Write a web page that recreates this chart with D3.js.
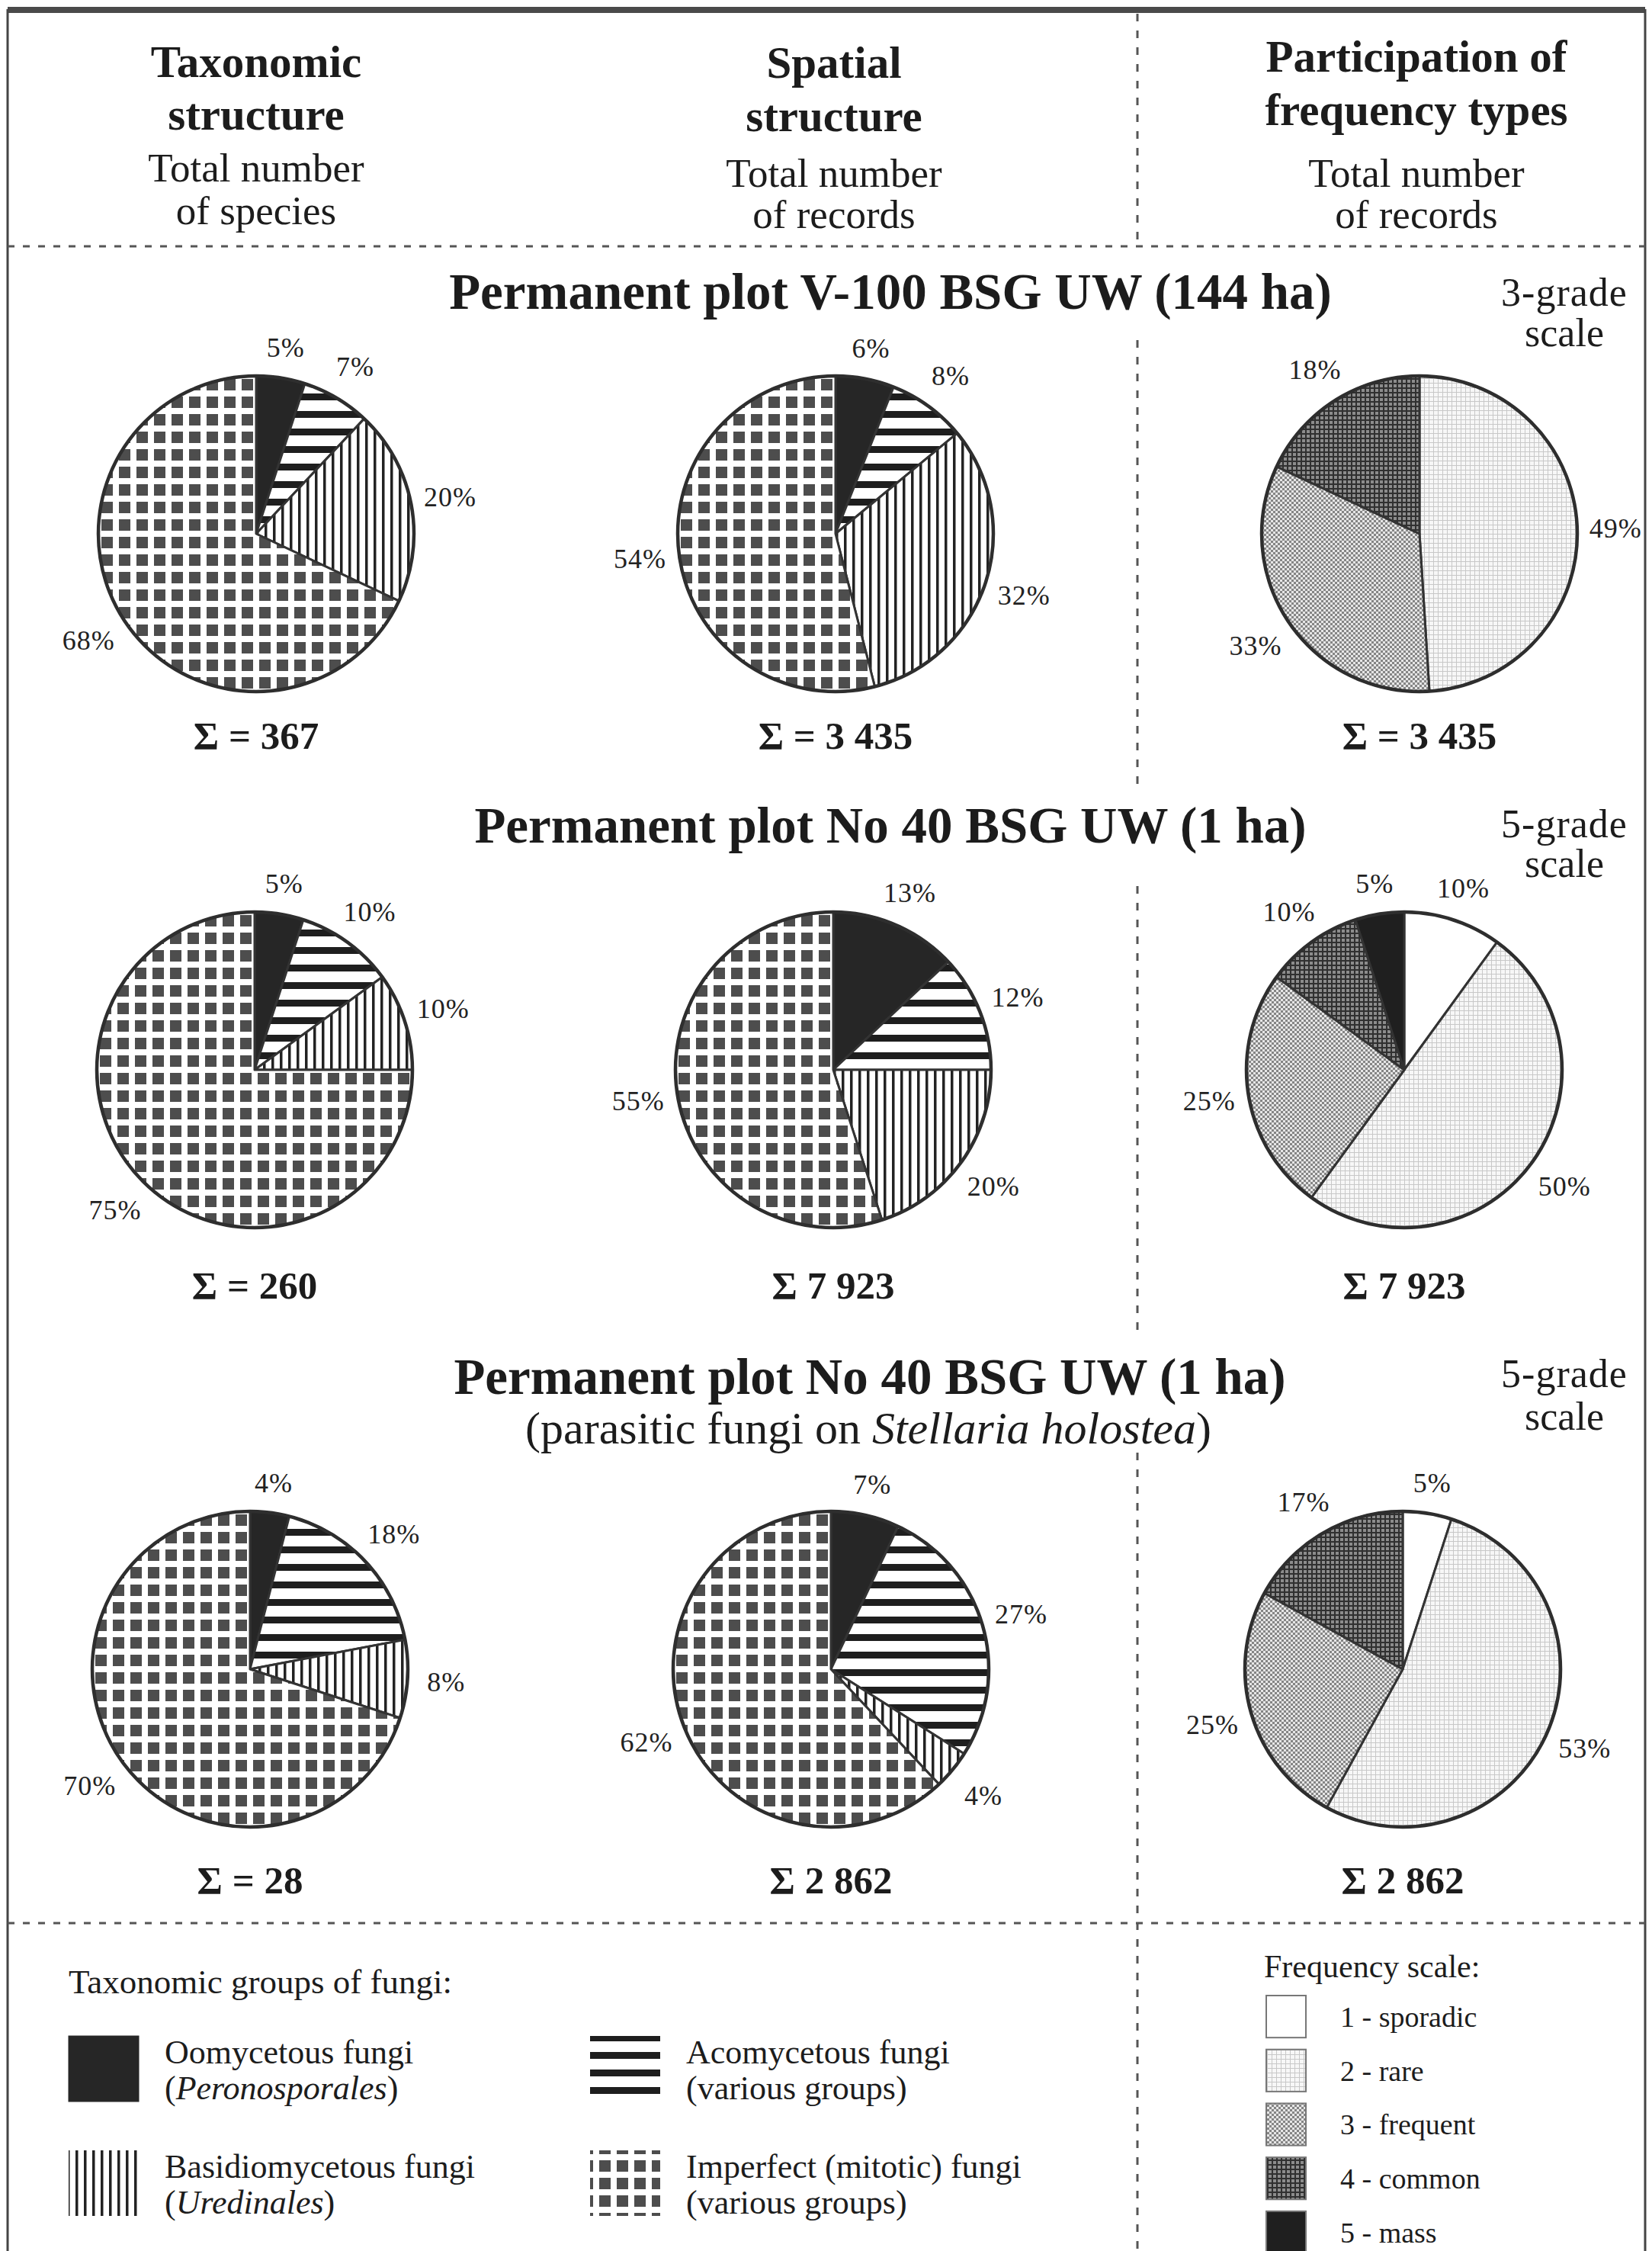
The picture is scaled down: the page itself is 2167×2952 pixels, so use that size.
<!DOCTYPE html>
<html>
<head>
<meta charset="utf-8">
<script src="https://cdn.jsdelivr.net/npm/d3@7"></script>
<style>
  body { margin: 0; background: #fff; }
  svg text { font-family: "Liberation Serif", "DejaVu Serif", serif; fill: #1c1c1c; }
</style>
</head>
<body>
<div id="chart"></div>
<script>
// ── data ─────────────────────────────────────────────────────────────
const taxGroups = ["Oomycetous fungi", "Acomycetous fungi", "Basidiomycetous fungi", "Imperfect (mitotic) fungi"];
const taxSubs = ["Peronosporales", "various groups", "Uredinales", "various groups"];
const taxSubItalic = [true, false, true, false];
const freqTypes = ["1 - sporadic", "2 - rare", "3 - frequent", "4 - common", "5 - mass"];

const plotTitles = ["Permanent plot V-100 BSG UW (144 ha)", "Permanent plot No 40 BSG UW (1 ha)", "Permanent plot No 40 BSG UW (1 ha)"];
const scaleNotes = ["3-grade", "5-grade", "5-grade"];

// % per taxonomic group (clockwise from 12 o'clock)
const taxonomicValues = [[5, 7, 20, 68], [5, 10, 10, 75], [4, 18, 8, 70]];
const spatialValues = [[6, 8, 32, 54], [13, 12, 20, 55], [7, 27, 4, 62]];
// % per frequency type
const freqValues = [[0, 49, 33, 18, 0], [10, 50, 25, 10, 5], [5, 53, 25, 17, 0]];

const speciesTotals = [367, 260, 28];
const recordTotals = [3435, 7923, 2862];
const sumSigns = [["= ", "= ", "= "], ["= ", "", ""], ["= ", "", ""]];

const headers = [
  { bold: ["Taxonomic", "structure"], reg: ["Total number", "of species"] },
  { bold: ["Spatial", "structure"], reg: ["Total number", "of records"] },
  { bold: ["Participation of", "frequency types"], reg: ["Total number", "of records"] }
];

function drawFigure() {
  const W = 2167, H = 2952;
  const svg = d3.select("#chart").append("svg")
    .attr("width", W).attr("height", H)
    .attr("viewBox", `0 0 ${W} ${H}`);

  /* ── 1. fill patterns (scanned hatching) ────────────────────────── */
  const defs = svg.append("defs");
  function pattern(id, w, h, bg, rects) {
    const p = defs.append("pattern").attr("id", id)
      .attr("patternUnits", "userSpaceOnUse").attr("width", w).attr("height", h);
    p.append("rect").attr("width", w).attr("height", h).attr("fill", bg);
    rects.forEach(r => p.append("rect")
      .attr("x", r[0]).attr("y", r[1]).attr("width", r[2]).attr("height", r[3]).attr("fill", r[4]));
  }
  pattern("p-oomy", 10, 10, "#262626", []);
  pattern("p-asco", 24, 23, "#fff", [[0, 0, 24, 9, "#1e1e1e"]]);
  pattern("p-basid", 11, 11, "#fff", [[0, 0, 3.5, 11, "#222"]]);
  pattern("p-imperf", 23, 23, "#fff", [[4, 4, 15, 15, "#4d4d4d"]]);

  pattern("p-spor", 10, 10, "#fff", []);
  pattern("p-rare", 6, 6, "#f7f7f7", [[0, 0, 6, 1, "#c8c8c8"], [0, 0, 1, 6, "#c8c8c8"]]);
  pattern("p-freq", 6, 6, "#e6e6e6", [[0, 0, 3, 3, "#858585"], [3, 3, 3, 3, "#858585"]]);
  pattern("p-comm", 6, 6, "#8c8c8c", [[0, 0, 6, 2, "#303030"], [0, 0, 2, 6, "#303030"]]);
  pattern("p-mass", 10, 10, "#1f1f1f", []);

  const taxFill = d3.scaleOrdinal().domain(taxGroups)
    .range(["url(#p-oomy)", "url(#p-asco)", "url(#p-basid)", "url(#p-imperf)"]);
  const freqFill = d3.scaleOrdinal().domain(freqTypes)
    .range(["url(#p-spor)", "url(#p-rare)", "url(#p-freq)", "url(#p-comm)", "url(#p-mass)"]);

  /* ── 2. frame and dashed separators ─────────────────────────────── */
  const xLeft = 10, xRight = 2158, xDiv = 1492;
  svg.append("rect").attr("x", xLeft).attr("y", 9).attr("width", xRight - xLeft).attr("height", 8).attr("fill", "#4a4a4a");
  [xLeft, xRight].forEach(x => svg.append("line")
    .attr("x1", x).attr("x2", x).attr("y1", 12).attr("y2", H)
    .attr("stroke", "#444").attr("stroke-width", 3));

  [323, 2522].forEach(y => svg.append("line")
    .attr("x1", xLeft).attr("x2", xRight).attr("y1", y).attr("y2", y)
    .attr("stroke", "#555").attr("stroke-width", 3).attr("stroke-dasharray", "9,11"));

  [[18, 323], [446, 1035], [1162, 1745], [1905, H]].forEach(s => svg.append("line")
    .attr("x1", xDiv).attr("x2", xDiv).attr("y1", s[0]).attr("y2", s[1])
    .attr("stroke", "#555").attr("stroke-width", 3).attr("stroke-dasharray", "10,12"));

  /* ── 3. column headers ──────────────────────────────────────────── */
  const colX = [336, 1094, 1858];
  const headY = [[101, 170, 238, 294], [102, 172, 245, 299], [94, 164, 245, 299]];
  headers.forEach((h, i) => {
    h.bold.forEach((t, j) => svg.append("text")
      .attr("x", colX[i]).attr("y", headY[i][j]).attr("text-anchor", "middle")
      .style("font-size", "59px").style("font-weight", "bold").text(t));
    h.reg.forEach((t, j) => svg.append("text")
      .attr("x", colX[i]).attr("y", headY[i][j + 2]).attr("text-anchor", "middle")
      .style("font-size", "53px").text(t));
  });

  /* ── 4. pie rows ────────────────────────────────────────────────── */
  const R = 207;
  const rowY = [700, 1403, 2189];
  const titleY = [405, 1105, 1828];
  const titleX = [1168, 1168, 1141];
  const noteY = [[401, 454], [1098, 1150], [1819, 1875]];
  const sumY = [982, 1703, 2483];
  const pieX = [[336, 1096, 1862], [334, 1093, 1842], [328, 1090, 1840]];

  const pie = d3.pie().sort(null).value(d => d.value);
  const arc = d3.arc().innerRadius(0).outerRadius(R);

  function drawPie(cx, cy, keys, values, fill) {
    const items = keys.map((k, i) => ({ key: k, value: values[i] })).filter(d => d.value > 0);
    const g = svg.append("g").attr("transform", `translate(${cx},${cy})`);
    const arcs = pie(items);
    g.selectAll("path").data(arcs).join("path")
      .attr("d", arc)
      .attr("fill", d => fill(d.data.key))
      .attr("stroke", "#333").attr("stroke-width", 3).attr("stroke-linejoin", "round");
    g.append("circle").attr("r", R).attr("fill", "none").attr("stroke", "#2e2e2e").attr("stroke-width", 4.5);

    // percent labels just outside each slice
    g.selectAll("text.pct").data(arcs).join("text")
      .attr("class", "pct")
      .attr("transform", d => {
        const a = (d.startAngle + d.endAngle) / 2;
        const rl = R + 22 + 28 * Math.abs(Math.sin(a)) + 14 * Math.abs(Math.cos(a));
        return `translate(${rl * Math.sin(a)},${-rl * Math.cos(a)})`;
      })
      .attr("text-anchor", "middle").attr("dy", "0.35em")
      .style("font-size", "36px").style("letter-spacing", "1px").style("fill", "#222")
      .text(d => d.data.value + "%");
  }

  const fmt = n => d3.format(",")(n).replace(/,/g, " ");

  plotTitles.forEach((title, r) => {
    svg.append("text").attr("x", titleX[r]).attr("y", titleY[r]).attr("text-anchor", "middle")
      .style("font-size", "67px").style("font-weight", "bold").text(title);

    const note = svg.append("text").attr("text-anchor", "middle").style("font-size", "52px");
    note.append("tspan").attr("x", 2052).attr("y", noteY[r][0]).style("letter-spacing", "1px").text(scaleNotes[r]);
    note.append("tspan").attr("x", 2052).attr("y", noteY[r][1]).text("scale");

    drawPie(pieX[r][0], rowY[r], taxGroups, taxonomicValues[r], taxFill);
    drawPie(pieX[r][1], rowY[r], taxGroups, spatialValues[r], taxFill);
    drawPie(pieX[r][2], rowY[r], freqTypes, freqValues[r], freqFill);

    const totals = [speciesTotals[r], recordTotals[r], recordTotals[r]];
    totals.forEach((v, c) => svg.append("text")
      .attr("x", pieX[r][c]).attr("y", sumY[r]).attr("text-anchor", "middle")
      .style("font-size", "51px").style("font-weight", "bold")
      .text("Σ " + sumSigns[r][c] + fmt(v)));
  });

  // subtitle of the third plot
  const sub = svg.append("text").attr("x", 1139).attr("y", 1893).attr("text-anchor", "middle").style("font-size", "60px");
  sub.append("tspan").text("(parasitic fungi on ");
  sub.append("tspan").style("font-style", "italic").text("Stellaria holostea");
  sub.append("tspan").text(")");

  /* ── 5. legends ─────────────────────────────────────────────────── */
  svg.append("text").attr("x", 90).attr("y", 2614).style("font-size", "45px").text("Taxonomic groups of fungi:");

  const legPos = [[90, 2670], [774, 2670], [90, 2820], [774, 2820]];
  taxGroups.forEach((k, i) => {
    const [x, y] = legPos[i];
    svg.append("rect").attr("x", x).attr("y", y).attr("width", 92).attr("height", 86)
      .attr("fill", taxFill(k)).attr("stroke", k === taxGroups[0] ? "#262626" : "none");
    svg.append("text").attr("x", x + 126).attr("y", y + 36).style("font-size", "44px").text(k);
    const t = svg.append("text").attr("x", x + 126).attr("y", y + 83).style("font-size", "44px");
    t.append("tspan").text("(");
    t.append("tspan").style("font-style", taxSubItalic[i] ? "italic" : "normal").text(taxSubs[i]);
    t.append("tspan").text(")");
  });

  svg.append("text").attr("x", 1658).attr("y", 2593).style("font-size", "42px").text("Frequency scale:");
  const fy = d3.scaleBand().domain(freqTypes).range([2617, 2955]).paddingInner(0.22);
  freqTypes.forEach(k => {
    svg.append("rect").attr("x", 1661).attr("y", fy(k)).attr("width", 52).attr("height", fy.bandwidth())
      .attr("fill", freqFill(k)).attr("stroke", "#777").attr("stroke-width", 2);
    svg.append("text").attr("x", 1758).attr("y", fy(k) + fy.bandwidth() / 2).attr("dy", "0.35em")
      .style("font-size", "38px").text(k);
  });
}

drawFigure();
</script>
</body>
</html>
